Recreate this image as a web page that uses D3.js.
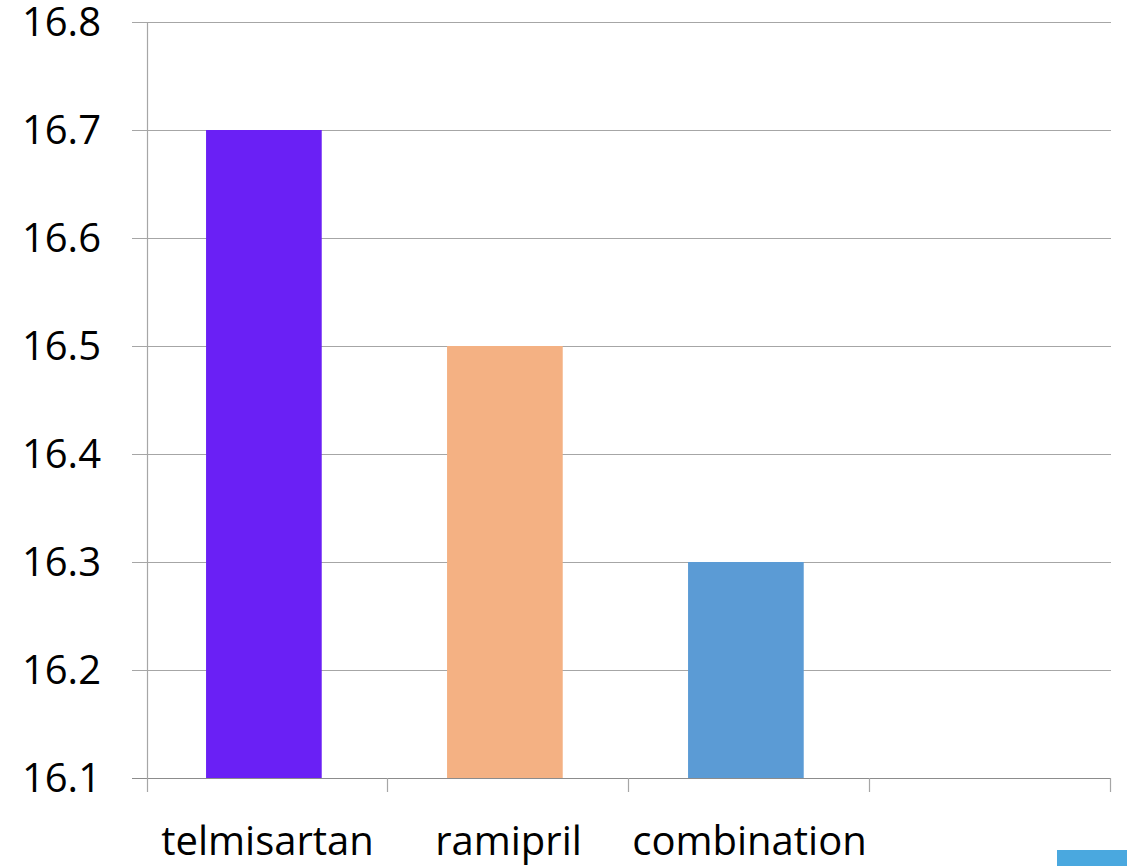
<!DOCTYPE html>
<html>
<head>
<meta charset="utf-8">
<script src="https://cdn.jsdelivr.net/npm/d3@7"></script>
<style>
  html, body { margin: 0; padding: 0; background: #fff; }
  svg { display: block; font-family: "Open Sans", Lato, sans-serif; }
</style>
</head>
<body>
<svg id="chart" width="1127" height="866"></svg>
<script>
// Chart data
const categories = ["telmisartan", "ramipril", "combination", ""];
const values = [16.7, 16.5, 16.3, null];
const barColors = ["#6a20f5", "#f4b183", "#5b9bd5", "#5b9bd5"];
const yTicks = [16.1, 16.2, 16.3, 16.4, 16.5, 16.6, 16.7, 16.8];

const width = 1127, height = 866;
const margin = { top: 22, right: 16, bottom: 88, left: 147 };

const svg = d3.select("#chart");

const x = d3.scaleBand()
  .domain(categories.map((d, i) => i))
  .range([margin.left, width - margin.right])
  .paddingInner(0)
  .paddingOuter(0);

const y = d3.scaleLinear()
  .domain([16.1, 16.8])
  .range([height - margin.bottom, margin.top]);

// Horizontal gridlines (extend left of axis as tick marks)
svg.append("g")
  .selectAll("line")
  .data(yTicks)
  .join("line")
  .attr("x1", margin.left - 15)
  .attr("x2", width - margin.right)
  .attr("y1", d => Math.round(y(d)) + 0.5)
  .attr("y2", d => Math.round(y(d)) + 0.5)
  .attr("stroke", d => d === 16.1 ? "#8c8c8c" : "#a6a6a6")
  .attr("stroke-width", 1.2);

// Bars
svg.append("g")
  .selectAll("rect")
  .data(values.map((v, i) => ({ v, i })).filter(d => d.v != null))
  .join("rect")
  .attr("x", d => x(d.i) + x.bandwidth() * 0.245)
  .attr("width", x.bandwidth() * 0.48)
  .attr("y", d => y(d.v))
  .attr("height", d => y(16.1) - y(d.v))
  .attr("fill", d => barColors[d.i]);

// Vertical axis line
svg.append("line")
  .attr("x1", margin.left + 0.5)
  .attr("x2", margin.left + 0.5)
  .attr("y1", y(16.8))
  .attr("y2", y(16.1) + 14)
  .attr("stroke", "#a6a6a6")
  .attr("stroke-width", 1.2);

// Category boundary ticks
svg.append("g")
  .selectAll("line")
  .data(d3.range(1, categories.length + 1))
  .join("line")
  .attr("x1", i => Math.round(margin.left + i * x.bandwidth()) - 0.5)
  .attr("x2", i => Math.round(margin.left + i * x.bandwidth()) - 0.5)
  .attr("y1", y(16.1))
  .attr("y2", y(16.1) + 14)
  .attr("stroke", "#a6a6a6")
  .attr("stroke-width", 1.2);

// Y tick labels
svg.append("g")
  .selectAll("text")
  .data(yTicks)
  .join("text")
  .attr("x", 101)
  .attr("y", d => y(d))
  .attr("dy", "0.36em")
  .attr("text-anchor", "end")
  .attr("font-size", 40)
  .attr("fill", "#000")
  .text(d => d3.format(".1f")(d));

// Category labels
svg.append("g")
  .selectAll("text")
  .data(categories)
  .join("text")
  .attr("x", (d, i) => x(i) + x.bandwidth() / 2)
  .attr("y", 855)
  .attr("text-anchor", "middle")
  .attr("font-size", 40)
  .attr("fill", "#000")
  .text(d => d);

// Legend swatch fragment at bottom right
svg.append("rect")
  .attr("x", 1057)
  .attr("y", 850)
  .attr("width", 70)
  .attr("height", 16)
  .attr("fill", "#4aa8df");
</script>
</body>
</html>
